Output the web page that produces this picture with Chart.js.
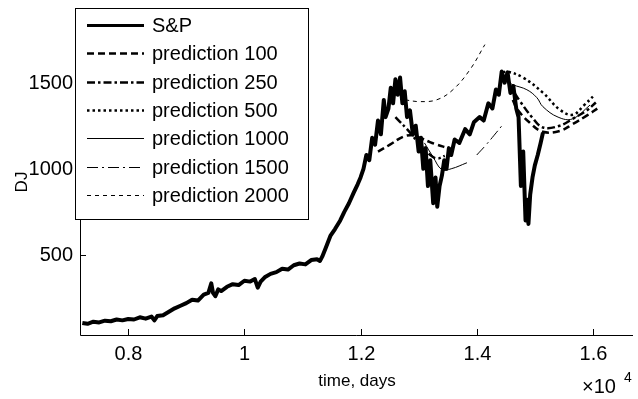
<!DOCTYPE html>
<html>
<head>
<meta charset="utf-8">
<script src="https://cdn.jsdelivr.net/npm/chart.js@4/dist/chart.umd.min.js"></script>
<style>
html,body{margin:0;padding:0;background:#fff;}
#wrap{width:638px;height:399px;position:relative;}
</style>
</head>
<body>
<div id="wrap"><canvas id="c" width="638" height="399"></canvas></div>
<script>
// ---- data ----
const xTicks = [8000, 10000, 12000, 14000, 16000];
const xTickLabels = ["0.8", "1", "1.2", "1.4", "1.6"];
const yTicks = [500, 1000, 1500];
const yTickLabels = ["500", "1000", "1500"];

const spX = [7210,7300,7400,7500,7600,7700,7800,7900,8000,8100,8200,8300,8400,8450,8500,8600,8700,8800,8900,9000,9100,9200,9300,9380,9430,9460,9500,9550,9600,9700,9800,9900,10000,10100,10180,10230,10280,10350,10450,10550,10650,10750,10850,10950,11050,11150,11250,11300,11340,11400,11480,11560,11650,11720,11800,11880,11950,12000,12050,12100,12150,12200,12250,12300,12350,12400,12430,12480,12520,12560,12600,12640,12680,12720,12760,12800,12850,12900,12950,13000,13040,13080,13120,13160,13200,13250,13290,13320,13360,13400,13440,13480,13520,13560,13620,13700,13800,13880,13950,14050,14120,14200,14270,14330,14380,14430,14480,14530,14580,14630,14680,14720,14760,14800,14840,14870,14890,14920,14960,15000,15050,15100,15140];
const spY = [105,100,112,108,118,115,125,120,128,125,138,130,142,120,145,150,170,190,205,220,240,235,270,280,335,280,260,300,290,315,330,325,350,345,360,310,345,370,390,400,420,415,440,450,445,470,475,465,490,540,610,650,700,750,800,860,910,950,1000,1080,1050,1180,1140,1280,1200,1400,1300,1350,1470,1380,1520,1430,1530,1380,1450,1300,1340,1200,1250,1100,1180,1000,1120,900,1050,800,950,780,900,960,1050,1000,1120,1080,1170,1150,1230,1200,1270,1300,1280,1380,1350,1460,1430,1565,1500,1560,1440,1480,1350,1300,900,1100,700,820,680,850,950,1020,1080,1150,1210];

// null marks where a prediction lies hidden under the S&P line
const p100X = [12300,12506,12730,12885,13022,13194,13315,13487,13560,14620,14700,14914,15138,15430,15654,15900,16100];
const p100Y = [1100,1140,1186,1195,1180,1155,1140,1122,null,1400,1345,1267,1215,1220,1260,1310,1355];

const p250X = [12600,12800,13000,13200,13320,13450,13520,14650,14750,14950,15140,15430,15650,15900,16050];
const p250Y = [1300,1230,1150,1080,1060,1075,null,1440,1390,1300,1240,1250,1290,1340,1385];

const p500X = [14450,14536,14800,15138,15430,15654,15850,16000];
const p500Y = [1560,1564,1529,1442,1343,1314,1370,1419];

const p1000X = [13100,13246,13400,13560,13831,13900,14500,14622,14863,15035,15138,15400,15650,15950];
const p1000Y = [1150,1070,995,1000,1035,null,1510,1488,1459,1413,1361,1300,1290,1370];

const p1500X = [14000,14150,14300,14433];
const p1500Y = [1080,1135,1195,1250];

const p2000X = [12764,13022,13315,13590,13882,14140];
const p2000Y = [1400,1390,1401,1459,1575,1721];

const seriesNames = ["S&P","prediction 100","prediction 250","prediction 500","prediction 1000","prediction 1500","prediction 2000"];

function pts(xs, ys){ return xs.map((x,i)=>({x:x,y:ys[i]})); }

const styles = [
  {w:4, dash:[]},
  {w:2.5, dash:[7,4]},
  {w:2.5, dash:[8,3,2.5,3]},
  {w:2.5, dash:[2.5,3]},
  {w:1, dash:[]},
  {w:1, dash:[11,4,2,4]},
  {w:1, dash:[4,4]}
];
const allX = [spX,p100X,p250X,p500X,p1000X,p1500X,p2000X];
const allY = [spY,p100Y,p250Y,p500Y,p1000Y,p1500Y,p2000Y];

const datasets = seriesNames.map((n,i)=>({
  label:n,
  data:pts(allX[i],allY[i]),
  borderColor:'#000',
  borderWidth:styles[i].w,
  borderDash:styles[i].dash,
  pointRadius:0,
  fill:false,
  spanGaps:false,
  tension: i===0 ? 0 : 0.4,
  borderJoinStyle:'round'
}));

const FONT = '20px "Liberation Sans", Arial, sans-serif';

const axesPlugin = {
  id:'axesPlugin',
  afterDraw(chart){
    const ctx = chart.ctx;
    const xs = chart.scales.x, ys = chart.scales.y;
    const a = chart.chartArea;
    ctx.save();
    ctx.strokeStyle = '#000';
    ctx.lineWidth = 1;
    ctx.beginPath();
    ctx.moveTo(a.left+0.5, a.top);
    ctx.lineTo(a.left+0.5, a.bottom+0.5);
    ctx.lineTo(a.right, a.bottom+0.5);
    ctx.stroke();
    ctx.fillStyle = '#000';
    ctx.font = FONT;
    // x ticks
    ctx.textAlign='center'; ctx.textBaseline='middle';
    xTicks.forEach((v,i)=>{
      const px = Math.round(xs.getPixelForValue(v))+0.5;
      ctx.beginPath(); ctx.moveTo(px, a.bottom); ctx.lineTo(px, a.bottom-6); ctx.stroke();
      ctx.fillText(xTickLabels[i], px, a.bottom+19);
    });
    // y ticks
    ctx.textAlign='right';
    yTicks.forEach((v,i)=>{
      const py = Math.round(ys.getPixelForValue(v))+0.5;
      ctx.beginPath(); ctx.moveTo(a.left, py); ctx.lineTo(a.left+6, py); ctx.stroke();
      ctx.fillText(yTickLabels[i], a.left-7, py);
    });
    // axis titles
    ctx.textAlign='center';
    ctx.font = '17px "Liberation Sans", Arial, sans-serif';
    ctx.fillText('time, days', 357, 381);
    ctx.save();
    ctx.translate(22, 182);
    ctx.rotate(-Math.PI/2);
    ctx.fillText('DJ', 0, 0);
    ctx.restore();
    // exponent
    ctx.font = FONT;
    ctx.textAlign='left';
    ctx.fillText('\u00d710', 582, 387);
    ctx.font = '14px "Liberation Sans", Arial, sans-serif';
    ctx.fillText('4', 624, 378);
    // legend
    const L = 75.5, T = 8.5, R = 308.5, B = 219.5;
    ctx.fillStyle='#fff';
    ctx.fillRect(L,T,R-L,B-T);
    ctx.strokeStyle='#000'; ctx.lineWidth=1; ctx.setLineDash([]);
    ctx.strokeRect(L,T,R-L,B-T);
    ctx.font = FONT;
    ctx.fillStyle='#000';
    ctx.textAlign='left'; ctx.textBaseline='middle';
    chart.data.datasets.forEach((d,i)=>{
      const y = Math.round(25 + i*28.3)+0.5;
      ctx.save();
      ctx.lineWidth = Math.min(d.borderWidth, 3);
      ctx.setLineDash(d.borderDash);
      ctx.beginPath(); ctx.moveTo(87,y); ctx.lineTo(144,y); ctx.stroke();
      ctx.restore();
      ctx.fillText(d.label, 152, y+1);
    });
    ctx.restore();
  }
};

new Chart(document.getElementById('c'), {
  type:'line',
  data:{datasets:datasets},
  options:{
    responsive:false,
    animation:false,
    layout:{padding:{left:80,right:5,top:31,bottom:64}},
    plugins:{legend:{display:false},tooltip:{enabled:false}},
    scales:{
      x:{type:'linear',min:7170,max:16690,display:false},
      y:{type:'linear',min:35,max:1800,display:false}
    }
  },
  plugins:[axesPlugin]
});
</script>
</body>
</html>
